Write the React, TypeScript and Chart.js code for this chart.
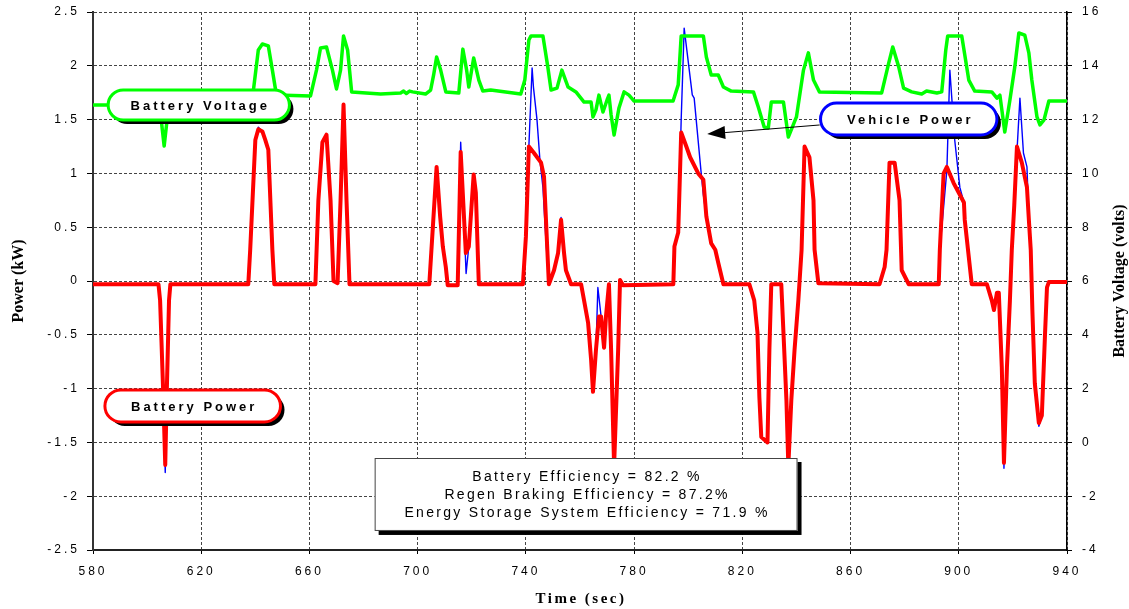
import React, { useEffect, useRef } from "react";
import { Chart, registerables } from "chart.js";

Chart.register(...registerables);

// ---------------- data ----------------
const timeRange = [580, 940];
const powerRange = [-2.5, 2.5];
const voltRange = [-4, 16];
const timeStep = 40;
const powerStep = 0.5;
const voltStep = 2;

const voltageTime = [
  580, 603.0, 604.8, 606.3, 607.8, 609.3, 624, 626, 638.5, 639.3, 641.1, 642.6, 644.8, 646.3, 647.8,
  660.4, 662.6, 664.1, 666.3, 668.5, 670.0, 671.5, 672.6, 674.1, 675.6, 686.3, 693.7, 694.8, 695.8,
  697.0, 698.1, 702.9, 704.8, 705.9, 707.0, 708.5, 710.4, 715.2, 716.7, 718.1, 718.9, 720.7, 722.6,
  724.1, 727.0, 738.1, 739.6, 741.1, 741.9, 746.3, 748.1, 749.3, 751.5, 753.3, 755.6, 758.5, 761.5,
  764.1, 764.8, 765.9, 767.0, 768.5, 770.0, 770.7, 771.5, 772.6, 774.4, 776.3, 778.1, 780.0, 794.4,
  796.3, 797.4, 805.6, 806.7, 808.5, 811.1, 813.0, 815.9, 824.1, 825.9, 828.1, 829.6, 830.7, 835.2,
  837.0, 840.0, 842.6, 844.4, 846.3, 848.5, 871.5, 874.1, 875.6, 877.8, 879.6, 882.6, 886.3, 888.1,
  891.9, 893.7, 895.2, 895.9, 901.1, 903.7, 905.9, 912.2, 914.1, 915.2, 917.0, 918.9, 920.7, 922.2,
  924.4, 925.9, 927.0, 928.9, 930.0, 931.5, 933.3, 940,
];
const batteryVoltage = [
  12.54, 12.54, 12.36, 11.02, 12.36, 12.54, 12.54, 12.88, 12.88, 13.1, 14.59, 14.81, 14.74, 13.84, 12.91,
  12.88, 13.84, 14.66, 14.7, 13.84, 13.14, 13.84, 15.11, 14.59, 13.03, 12.95, 12.99, 13.06, 12.97,
  13.06, 13.03, 12.95, 13.1, 13.66, 14.33, 13.84, 13.03, 12.99, 14.62, 13.84, 13.21, 14.29, 13.47,
  13.06, 13.1, 12.95, 13.47, 14.96, 15.11, 15.11, 13.96, 13.1, 13.17, 13.84, 13.21, 13.03, 12.65,
  12.65, 12.1, 12.36, 12.91, 12.28, 12.73, 12.91, 12.17, 11.43, 12.43, 13.03, 12.91, 12.69, 12.69,
  13.29, 15.11, 15.11, 14.33, 13.66, 13.66, 13.21, 13.06, 13.03, 12.47, 11.72, 11.69, 12.65, 12.65,
  11.35, 12.1, 13.84, 14.48, 13.47, 13.03, 12.99, 14.1, 14.7, 13.96, 13.17, 13.03, 12.95, 13.06,
  12.99, 13.03, 14.59, 15.11, 15.11, 13.47, 13.06, 13.03, 12.8, 12.91, 11.54, 12.73, 13.96, 15.22,
  15.14, 14.48, 13.47, 12.1, 11.8, 11.99, 12.69, 12.69,
];

const batteryTime = [
  580, 604.2, 604.8, 605.9, 606.7, 607.3, 608.1, 608.6, 637.4, 638.1, 640, 641.1, 642.6, 643.7, 644.8,
  646.3, 647, 662.2, 663.3, 664.8, 666.3, 667.8, 668.9, 670.4, 671.5, 672.6, 673.7, 674.8, 704.3, 707,
  708.3, 709.3, 710.4, 711.1, 714.8, 715.9, 717.8, 718.9, 720.7, 721.5, 722.6, 738.9, 740, 741.1, 743,
  745.6, 746.7, 748.5, 750.4, 751.9, 753, 754.1, 754.8, 756.7, 760.4, 761.5, 763, 764.1, 764.8, 765.9,
  767, 767.8, 768.9, 769.6, 770.7, 771.5, 772.6, 774.1, 774.8, 775.9, 794.5, 794.9, 796.3, 797.4,
  799.3, 800.7, 803.7, 805.6, 806.7, 808.5, 810, 811.1, 813, 822.6, 824.4, 825.6, 826.3, 827, 829.3,
  830, 830.7, 834.4, 835.2, 836.3, 837, 838.1, 839.3, 840.7, 841.9, 843, 844.8, 846.3, 846.7, 848.1,
  870.7, 872.6, 873.3, 874.4, 876.3, 878.1, 878.9, 881.5, 892.6, 893, 894.4, 895.6, 898.1, 900, 901.9,
  902.2, 904.1, 904.8, 910.4, 912.2, 913, 914.1, 914.8, 915.9, 916.7, 917.8, 918.9, 919.6, 920.5,
  921.5, 923.3, 925.2, 925.9, 926.6, 927.2, 928.1, 929.6, 930.7, 931.9, 932.6, 933.3, 940,
];
const batteryPower = [
  -0.03, -0.03, -0.18, -1.0, -1.71, -1.0, -0.18, -0.03, -0.03, 0.29, 1.31, 1.41, 1.39, 1.31, 1.22,
  0.29, -0.03, -0.03, 0.75, 1.29, 1.36, 0.75, 0.0, -0.02, 0.75, 1.64, 0.75, -0.03, -0.03, 1.06,
  0.6, 0.32, 0.13, -0.04, -0.04, 1.2, 0.26, 0.32, 0.99, 0.82, -0.03, -0.03, 0.41, 1.25, 1.19,
  1.1, 0.97, -0.03, 0.1, 0.26, 0.57, 0.26, 0.1, -0.03, -0.03, -0.18, -0.39, -0.73, -1.03, -0.64,
  -0.33, -0.33, -0.62, -0.33, -0.03, -0.64, -1.72, -0.64, 0.01, -0.04, -0.03, 0.32, 0.45, 1.38,
  1.25, 1.15, 1.0, 0.94, 0.6, 0.35, 0.29, 0.17, -0.03, -0.03, -0.18, -0.48, -1.08, -1.45, -1.5,
  -0.64, -0.03, -0.03, -0.48, -1.11, -1.72, -1.11, -0.64, -0.18, 0.29, 1.25, 1.15, 0.75, 0.29, -0.02,
  -0.03, 0.13, 0.29, 1.1, 1.1, 0.75, 0.1, -0.03, -0.03, 0.29, 1.0, 1.06, 0.91, 0.82, 0.73,
  0.57, 0.13, -0.03, -0.03, -0.18, -0.27, -0.11, -0.11, -0.8, -1.69, -0.8, -0.18, 0.29, 0.7,
  1.25, 1.1, 0.87, 0.57, 0.29, -0.27, -0.95, -1.32, -1.25, -0.48, -0.06, -0.01, -0.01,
];

const vehicleTime = [
  580, 604.2, 604.8, 605.9, 606.7, 607.3, 608.1, 608.6, 637.4, 638.1, 640, 641.1, 642.6, 643.7, 644.8,
  646.3, 647, 662.2, 663.3, 664.8, 666.3, 667.8, 668.9, 670.4, 671.5, 672.6, 673.7, 674.8, 704.3, 707,
  708.3, 709.3, 710.4, 711.1, 714.8, 715.9, 717.9, 718.9, 720.7, 721.5, 722.6, 738.9, 740, 741.1, 742.3,
  742.8, 744.1, 745.2, 746.3, 747.4, 748.5, 750.4, 751.9, 753, 754.1, 754.8, 756.7, 760.4, 761.5, 763,
  764.1, 764.8, 765.9, 766.6, 767.8, 768.9, 769.6, 770.7, 771.5, 772.6, 774.1, 774.8, 775.9, 794.5,
  794.9, 796.3, 797.4, 798.5, 801.5, 802.2, 804.8, 805.6, 806.7, 808.5, 810, 811.1, 813, 822.6, 824.4,
  825.6, 826.3, 827, 829.3, 830, 830.7, 834.4, 835.2, 836.3, 837, 838.1, 839.3, 840.7, 841.9, 843,
  844.8, 846.3, 846.7, 848.1, 870.7, 872.6, 873.3, 874.4, 876.3, 878.1, 878.9, 881.5, 892.6, 893,
  895.6, 896.7, 898.5, 900.4, 901.9, 902.2, 904.1, 904.8, 910.4, 912.2, 913, 914.1, 914.8, 915.9,
  916.7, 917.8, 918.9, 919.6, 921.5, 922.6, 923.9, 925.2, 925.9, 926.6, 927.2, 928.1, 929.6, 930.7,
  931.9, 932.6, 933.3, 940,
];
const vehiclePower = [
  -0.03, -0.03, -0.18, -1.0, -1.78, -1.0, -0.18, -0.03, -0.03, 0.29, 1.31, 1.43, 1.39, 1.31, 1.22,
  0.29, -0.03, -0.03, 0.75, 1.29, 1.36, 0.75, 0.0, -0.02, 0.75, 1.64, 0.75, -0.03, -0.03, 1.06,
  0.6, 0.32, 0.13, -0.04, -0.04, 1.29, 0.07, 0.32, 0.99, 0.82, -0.03, -0.03, 0.41, 1.25, 1.98,
  1.8, 1.5, 1.12, 0.87, 0.38, -0.03, 0.1, 0.26, 0.59, 0.26, 0.1, -0.03, -0.03, -0.18, -0.39,
  -0.73, -1.03, -0.64, -0.06, -0.33, -0.62, -0.33, -0.03, -0.64, -1.72, -0.64, 0.01, -0.04, -0.03,
  0.32, 0.45, 1.5, 2.35, 1.73, 1.7, 1.0, 0.8, 0.6, 0.35, 0.29, 0.17, -0.03, -0.03, -0.18,
  -0.48, -1.08, -1.45, -1.5, -0.64, -0.03, -0.03, -0.48, -1.11, -1.72, -1.11, -0.64, -0.18, 0.29, 1.25,
  1.15, 0.75, 0.29, -0.02, -0.03, 0.13, 0.29, 1.1, 1.1, 0.75, 0.1, -0.03, -0.03, 0.29,
  1.03, 1.96, 1.31, 0.87, 0.73, 0.57, 0.13, -0.03, -0.03, -0.18, -0.27, -0.11, -0.11, -0.8,
  -1.74, -0.8, -0.18, 0.29, 1.2, 1.7, 1.19, 1.06, 0.57, 0.29, -0.27, -0.95, -1.35, -1.25,
  -0.48, -0.06, -0.01, -0.01,
];

const efficiencyLines = [
  "Battery Efficiency = 82.2 %",
  "Regen Braking Efficiency = 87.2%",
  "Energy Storage System Efficiency = 71.9 %",
];

// annotation anchors in data units (time, power)
const voltageCallout = { t0: 585.6, t1: 652.6, p0: 1.775, p1: 1.496, text: "Battery Voltage", color: "#00ff00" };
const batteryCallout = { t0: 584.4, t1: 649.3, p0: -1.013, p1: -1.31, text: "Battery Power", color: "#ff0000" };
const vehicleCallout = { t0: 848.9, t1: 914.1, p0: 1.654, p1: 1.357, text: "Vehicle Power", color: "#0000ff" };
const arrowFrom = { t: 848.6, p: 1.45 };
const arrowTo = { t: 807.0, p: 1.366 };
const effBox = { t0: 684.1, t1: 840.4, p0: -1.645, p1: -2.323 };

const SANS = 'Arial, "Liberation Sans", Helvetica, sans-serif';
const SERIF = '"Times New Roman", "Liberation Serif", Times, serif';

const toPoints = (t: number[], v: number[]) => t.map((x, i) => ({ x, y: v[i] }));
const fmt = (v: any) => String(Math.round(Number(v) * 100) / 100);

const overlayPlugin = {
  id: "overlay",
  beforeDraw(chart: any) {
    (chart.ctx as any).letterSpacing = "3px";
  },
  afterDraw(chart: any) {
    const ctx = chart.ctx as any;
    const xs = chart.scales.x;
    const ys = chart.scales.y;
    const px = (t: number) => xs.getPixelForValue(t);
    const py = (p: number) => ys.getPixelForValue(p);
    const area = chart.chartArea;
    ctx.save();
    ctx.letterSpacing = "0px";

    const callout = (c: any) => {
      const x = px(c.t0);
      const w = px(c.t1) - x;
      const y = py(c.p0);
      const h = py(c.p1) - y;
      const r = h / 2;
      ctx.fillStyle = "#000";
      ctx.beginPath();
      ctx.roundRect(x + 4, y + 4, w, h, r);
      ctx.fill();
      ctx.fillStyle = "#fff";
      ctx.beginPath();
      ctx.roundRect(x, y, w, h, r);
      ctx.fill();
      ctx.lineWidth = 3;
      ctx.strokeStyle = c.color;
      ctx.stroke();
      ctx.fillStyle = "#000";
      ctx.font = `bold 13px ${SANS}`;
      ctx.letterSpacing = "3px";
      ctx.textAlign = "center";
      ctx.textBaseline = "middle";
      ctx.fillText(c.text, x + w / 2 + 1.5, y + h / 2 + 1);
      ctx.letterSpacing = "0px";
    };

    // arrow
    const ax0 = px(arrowFrom.t), ay0 = py(arrowFrom.p);
    const ax1 = px(arrowTo.t), ay1 = py(arrowTo.p);
    const ang = Math.atan2(ay1 - ay0, ax1 - ax0);
    const headLen = 18, headHalf = 6.5;
    const bx = ax1 - headLen * Math.cos(ang), by = ay1 - headLen * Math.sin(ang);
    ctx.strokeStyle = "#000";
    ctx.lineWidth = 1;
    ctx.beginPath();
    ctx.moveTo(ax0, ay0);
    ctx.lineTo(bx, by);
    ctx.stroke();
    ctx.fillStyle = "#000";
    ctx.beginPath();
    ctx.moveTo(ax1, ay1);
    ctx.lineTo(bx + headHalf * Math.sin(ang), by - headHalf * Math.cos(ang));
    ctx.lineTo(bx - headHalf * Math.sin(ang), by + headHalf * Math.cos(ang));
    ctx.closePath();
    ctx.fill();

    callout(voltageCallout);
    callout(batteryCallout);
    callout(vehicleCallout);

    // efficiency box
    const ex = px(effBox.t0), ew = px(effBox.t1) - ex;
    const ey = py(effBox.p0), eh = py(effBox.p1) - ey;
    ctx.fillStyle = "#000";
    ctx.fillRect(ex + 4, ey + 4, ew, eh);
    ctx.fillStyle = "#fff";
    ctx.fillRect(ex, ey, ew, eh);
    ctx.strokeStyle = "#444";
    ctx.lineWidth = 1;
    ctx.strokeRect(ex + 0.5, ey + 0.5, ew - 1, eh - 1);
    ctx.fillStyle = "#000";
    ctx.font = `14px ${SANS}`;
    ctx.letterSpacing = "2.3px";
    ctx.textAlign = "center";
    ctx.textBaseline = "middle";
    efficiencyLines.forEach((line, i) => {
      ctx.fillText(line, ex + ew / 2 + 1, ey + 19 + i * 18);
    });

    // axis titles
    ctx.letterSpacing = "0px";
    ctx.font = `bold 16px ${SERIF}`;
    const midY = (area.top + area.bottom) / 2;
    ctx.save();
    ctx.translate(19, midY);
    ctx.rotate(-Math.PI / 2);
    ctx.fillText("Power (kW)", 0, 0);
    ctx.restore();
    ctx.save();
    ctx.translate(1120, midY);
    ctx.rotate(-Math.PI / 2);
    ctx.fillText("Battery Voltage (volts)", 0, 0);
    ctx.restore();
    ctx.font = `bold 15px ${SERIF}`;
    ctx.letterSpacing = "2.5px";
    ctx.fillText("Time (sec)", (area.left + area.right) / 2 + 1, 599);
    ctx.restore();
  },
};

export default function App() {
  const canvasRef = useRef<HTMLCanvasElement | null>(null);

  useEffect(() => {
    if (!canvasRef.current) return;
    const gridColor = "#444";
    const chart = new Chart(canvasRef.current, {
      type: "line",
      data: {
        datasets: [
          {
            label: "Battery Voltage",
            data: toPoints(voltageTime, batteryVoltage),
            borderColor: "#00ff00",
            borderWidth: 3.5,
            yAxisID: "y1",
            order: 1,
          },
          {
            label: "Battery Power",
            data: toPoints(batteryTime, batteryPower),
            borderColor: "#ff0000",
            borderWidth: 4,
            yAxisID: "y",
            order: 2,
          },
          {
            label: "Vehicle Power",
            data: toPoints(vehicleTime, vehiclePower),
            borderColor: "#0000ff",
            borderWidth: 1.4,
            yAxisID: "y",
            order: 3,
          },
        ],
      },
      options: {
        animation: false,
        responsive: true,
        maintainAspectRatio: false,
        devicePixelRatio: 1,
        layout: { padding: { top: 12, left: 0, right: 0, bottom: 0 } },
        elements: {
          point: { radius: 0, hoverRadius: 0 },
          line: { tension: 0, borderJoinStyle: "round", borderCapStyle: "round", fill: false },
        },
        plugins: {
          legend: { display: false },
          tooltip: { enabled: false },
          title: { display: false },
        },
        scales: {
          x: {
            type: "linear",
            min: timeRange[0],
            max: timeRange[1],
            ticks: { stepSize: timeStep, color: "#000", font: { size: 12, family: SANS }, padding: 10, maxRotation: 0, callback: fmt },
            grid: { color: gridColor, lineWidth: 1, tickLength: 4, tickColor: "#000" },
            border: { display: true, color: "#222", width: 2, dash: [3, 2] },
            afterFit: (s: any) => {
              s.height = 59;
              s.paddingLeft = 0;
              s.paddingRight = 0;
            },
          },
          y: {
            type: "linear",
            position: "left",
            min: powerRange[0],
            max: powerRange[1],
            ticks: { stepSize: powerStep, color: "#000", font: { size: 12, family: SANS }, padding: 7, callback: fmt },
            grid: { color: gridColor, lineWidth: 1, tickLength: 6, tickColor: "#000" },
            border: { display: true, color: "#333", width: 2, dash: [3, 2] },
            afterFit: (s: any) => {
              s.width = 93;
              s.paddingTop = 0;
              s.paddingBottom = 0;
            },
          },
          y1: {
            type: "linear",
            position: "right",
            min: voltRange[0],
            max: voltRange[1],
            ticks: { stepSize: voltStep, color: "#000", font: { size: 12, family: SANS }, padding: 10, callback: fmt },
            grid: { drawOnChartArea: false, tickLength: 5, color: "#000" },
            border: { display: true, color: "#000", width: 1.5 },
            afterFit: (s: any) => {
              s.width = 62;
              s.paddingTop = 0;
              s.paddingBottom = 0;
            },
          },
        },
      },
      plugins: [overlayPlugin],
    } as any);
    return () => chart.destroy();
  }, []);

  return (
    <div style={{ position: "absolute", left: 0, top: 0, width: 1129, height: 609, background: "#fff" }}>
      <canvas ref={canvasRef} />
    </div>
  );
}
